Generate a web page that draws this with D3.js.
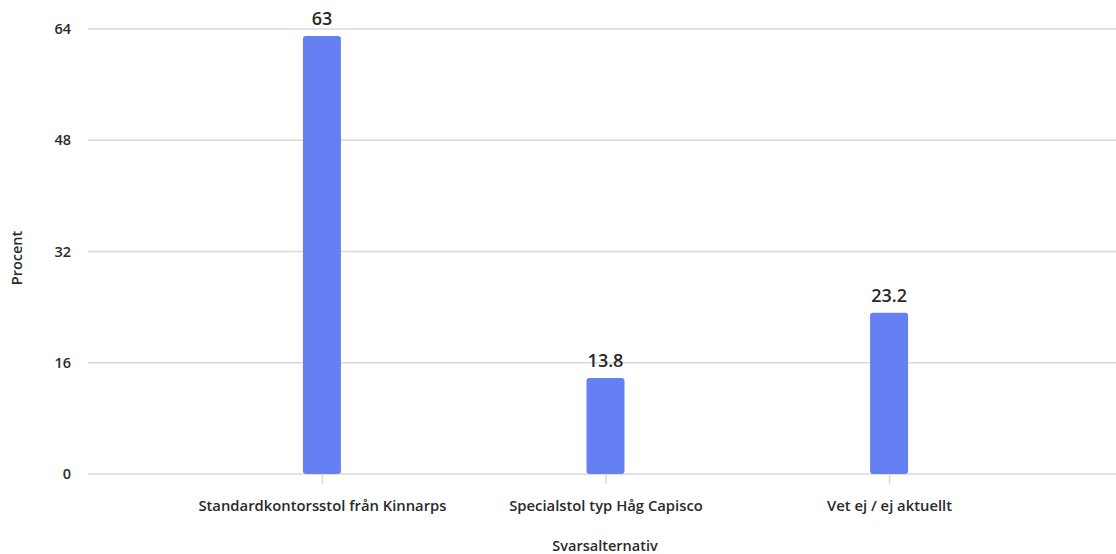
<!DOCTYPE html>
<html><head><meta charset="utf-8">
<script src="https://cdn.jsdelivr.net/npm/d3@7"></script>
<style>html,body{margin:0;padding:0;background:#fff;}svg{display:block;font-family:"Open Sans","Noto Sans",sans-serif;}</style>
</head><body><svg id="c" width="1116" height="554"></svg>
<script>
const categories = ["Standardkontorsstol från Kinnarps", "Specialstol typ Håg Capisco", "Vet ej / ej aktuellt"];
const values = [63, 13.8, 23.2];
const yTicks = [0, 16, 32, 48, 64];
const yTitle = "Procent";
const xTitle = "Svarsalternativ";

(function () {
const svg = d3.select("#c");
const mLeft = 88, mRight = 1116, mTop = 29, mBottom = 474;
const FONT = "'Open Sans','Noto Sans',sans-serif";
const x = d3.scalePoint().domain(categories).range([mLeft, 1123]).padding(0.825);
const y = d3.scaleLinear().domain([0, 64]).range([mBottom, mTop]);
const barW = 38;

// gridlines
svg.append("g").selectAll("line").data(yTicks).join("line")
  .attr("x1", mLeft).attr("x2", mRight)
  .attr("y1", d => y(d)).attr("y2", d => y(d))
  .attr("stroke", "#d9d9d9").attr("stroke-width", 1.5);

// y axis labels
const yAxis = svg.append("g").attr("transform", `translate(${mLeft},0)`)
  .call(d3.axisLeft(y).tickValues(yTicks).tickSize(0).tickPadding(17));
yAxis.select(".domain").remove();
yAxis.selectAll("text").attr("font-size", 14.5).attr("font-weight", 600).attr("fill", "#2a2a2a").attr("font-family", FONT);

// x axis
const xAxis = svg.append("g").attr("transform", `translate(0,${mBottom})`)
  .call(d3.axisBottom(x).tickSize(10).tickPadding(16));
xAxis.select(".domain").remove();
xAxis.selectAll("line").attr("stroke", "#d9d9d9").attr("stroke-width", 1.5);
xAxis.selectAll("text").attr("font-size", 14.8).attr("font-weight", 600).attr("fill", "#2a2a2a").attr("font-family", FONT);

// bars
svg.append("g").selectAll("rect").data(values).join("rect")
  .attr("x", (d, i) => x(categories[i]) - barW / 2)
  .attr("width", barW)
  .attr("y", d => y(d))
  .attr("height", d => y(0) - y(d))
  .attr("rx", 3).attr("ry", 3)
  .attr("fill", "#6480f2");

// value labels
svg.append("g").selectAll("text").data(values).join("text")
  .attr("x", (d, i) => x(categories[i]))
  .attr("y", d => y(d) - 11)
  .attr("text-anchor", "middle")
  .attr("font-size", 18).attr("font-weight", 600).attr("fill", "#2a2a2a")
  .text(d => d);

// axis titles
svg.append("text").attr("transform", "translate(22,258) rotate(-90)")
  .attr("text-anchor", "middle").attr("font-size", 14.5).attr("font-weight", 600).attr("fill", "#2a2a2a").text(yTitle);
svg.append("text").attr("x", 605).attr("y", 551)
  .attr("text-anchor", "middle").attr("font-size", 14.5).attr("font-weight", 600).attr("fill", "#2a2a2a").text(xTitle);
})();
</script></body></html>
